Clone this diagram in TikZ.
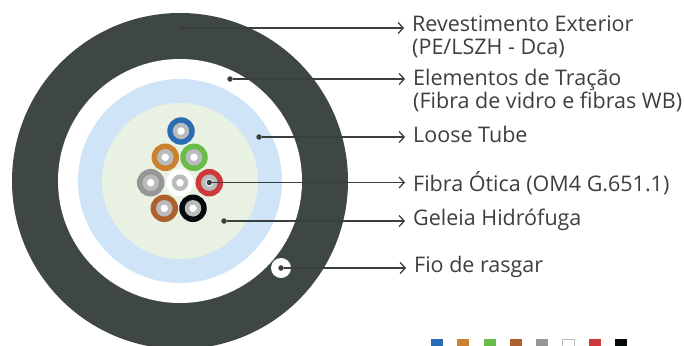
\documentclass[tikz,border=0pt]{standalone}
\usepackage{fontspec}
\setmainfont{Open Sans}
\usetikzlibrary{arrows.meta}
\definecolor{jacket}{HTML}{3F4745}
\definecolor{tube}{HTML}{D0E4F7}
\definecolor{gel}{HTML}{E9F2E2}
\definecolor{ink}{HTML}{3A3F3F}
\definecolor{core}{HTML}{B9BBBD}
\definecolor{fblue}{HTML}{2A6BB5}
\definecolor{forange}{HTML}{CB8130}
\definecolor{fgreen}{HTML}{68BC4B}
\definecolor{fbrown}{HTML}{AF6030}
\definecolor{fgray}{HTML}{959797}
\definecolor{fred}{HTML}{CE3A3C}
\definecolor{fblack}{HTML}{050A0D}
\begin{document}
\begin{tikzpicture}[x=1pt, y=-1pt,
   disc/.style={circle, inner sep=0pt, outer sep=0pt, minimum size=#1},
   dot_style/.style={circle, fill=ink, inner sep=0pt, outer sep=0pt, minimum size=5.5pt},
   label_style/.style={anchor=north west, inner sep=0pt, align=left, text=ink, font=\fontsize{21.5}{23}\selectfont},
   lead_style/.style={draw=ink, line width=1.3pt, shorten >=8pt, -{Straight Barb[length=5pt, width=11pt]}},
   swatch/.style={minimum width=12pt, minimum height=12pt, inner sep=0pt, outer sep=0pt, anchor=north west}]
	  \path[use as bounding box, clip] (0,0) rectangle (684,345);

	  % cable cross section
	  \node [disc=336pt, fill=jacket] (jacket) at (180,181) {};
	  \node [disc=244pt, fill=white] (strength) at (180,181) {};
	  \node [disc=204pt, fill=tube] (tube) at (180,181) {};
	  \node [disc=156pt, fill=gel] (gel) at (180,181) {};
	  \node [disc=20pt, fill=white] (ripcord) at (281,268) {};

	  % fibres
	  \foreach \name/\x/\y/\col in {b/181/131/fblue, o/165.3/157.3/forange, g/194/157.3/fgreen,
	      y/150.7/182.7/fgray, w/180/182.7/white, r/209.3/182.7/fred, n/164.3/208.3/fbrown, k/193/208.3/fblack} {
	    \node [disc=27.5pt, fill=\col] (ring\name) at (\x,\y) {};
	    \node [disc=16.5pt, fill=core] (core\name) at (\x,\y) {};
	    \node [disc=7.5pt, fill=white] (hole\name) at (\x,\y) {};
	  }

	  % labels
	  \node [label_style] (l1) at (412,16) {Revestimento Exterior\\(PE/LSZH - Dca)};
	  \node [label_style] (l2) at (413,69) {Elementos de Tração\\(Fibra de vidro e fibras WB)};
	  \node [label_style] (l3) at (413,126) {Loose Tube};
	  \node [label_style] (l4) at (413,171) {Fibra Ótica (OM4 G.651.1)};
	  \node [label_style] (l5) at (413,209) {Geleia Hidrófuga};
	  \node [label_style] (l6) at (414,256) {Fio de rasgar};

	  % leader lines
	  \node [dot_style] (d1) at (182,28) {};
	  \node [dot_style] (d2) at (230,79) {};
	  \node [dot_style] (d3) at (259,137) {};
	  \node [dot_style] (d4) at (209.3,182.5) {};
	  \node [dot_style] (d5) at (224,221) {};
	  \node [dot_style] (d6) at (281,268) {};
	  \foreach \from/\to in {d1/l1, d2/l2, d3/l3, d4/l4, d5/l5, d6/l6}
	    \draw [lead_style] (\from) -- (\from -| \to.west);

	  % colour code
	  \foreach \name/\x/\col in {b/431/fblue, o/457/forange, g/484/fgreen, n/510/fbrown, y/536/fgray, r/589/fred, k/615/fblack}
	    \node [swatch, fill=\col] (key\name) at (\x,339) {};
	  \node [swatch, fill=white, draw=core, line width=1pt] (keyw) at (562.5,339) {};

	\end{tikzpicture}
\end{document}
